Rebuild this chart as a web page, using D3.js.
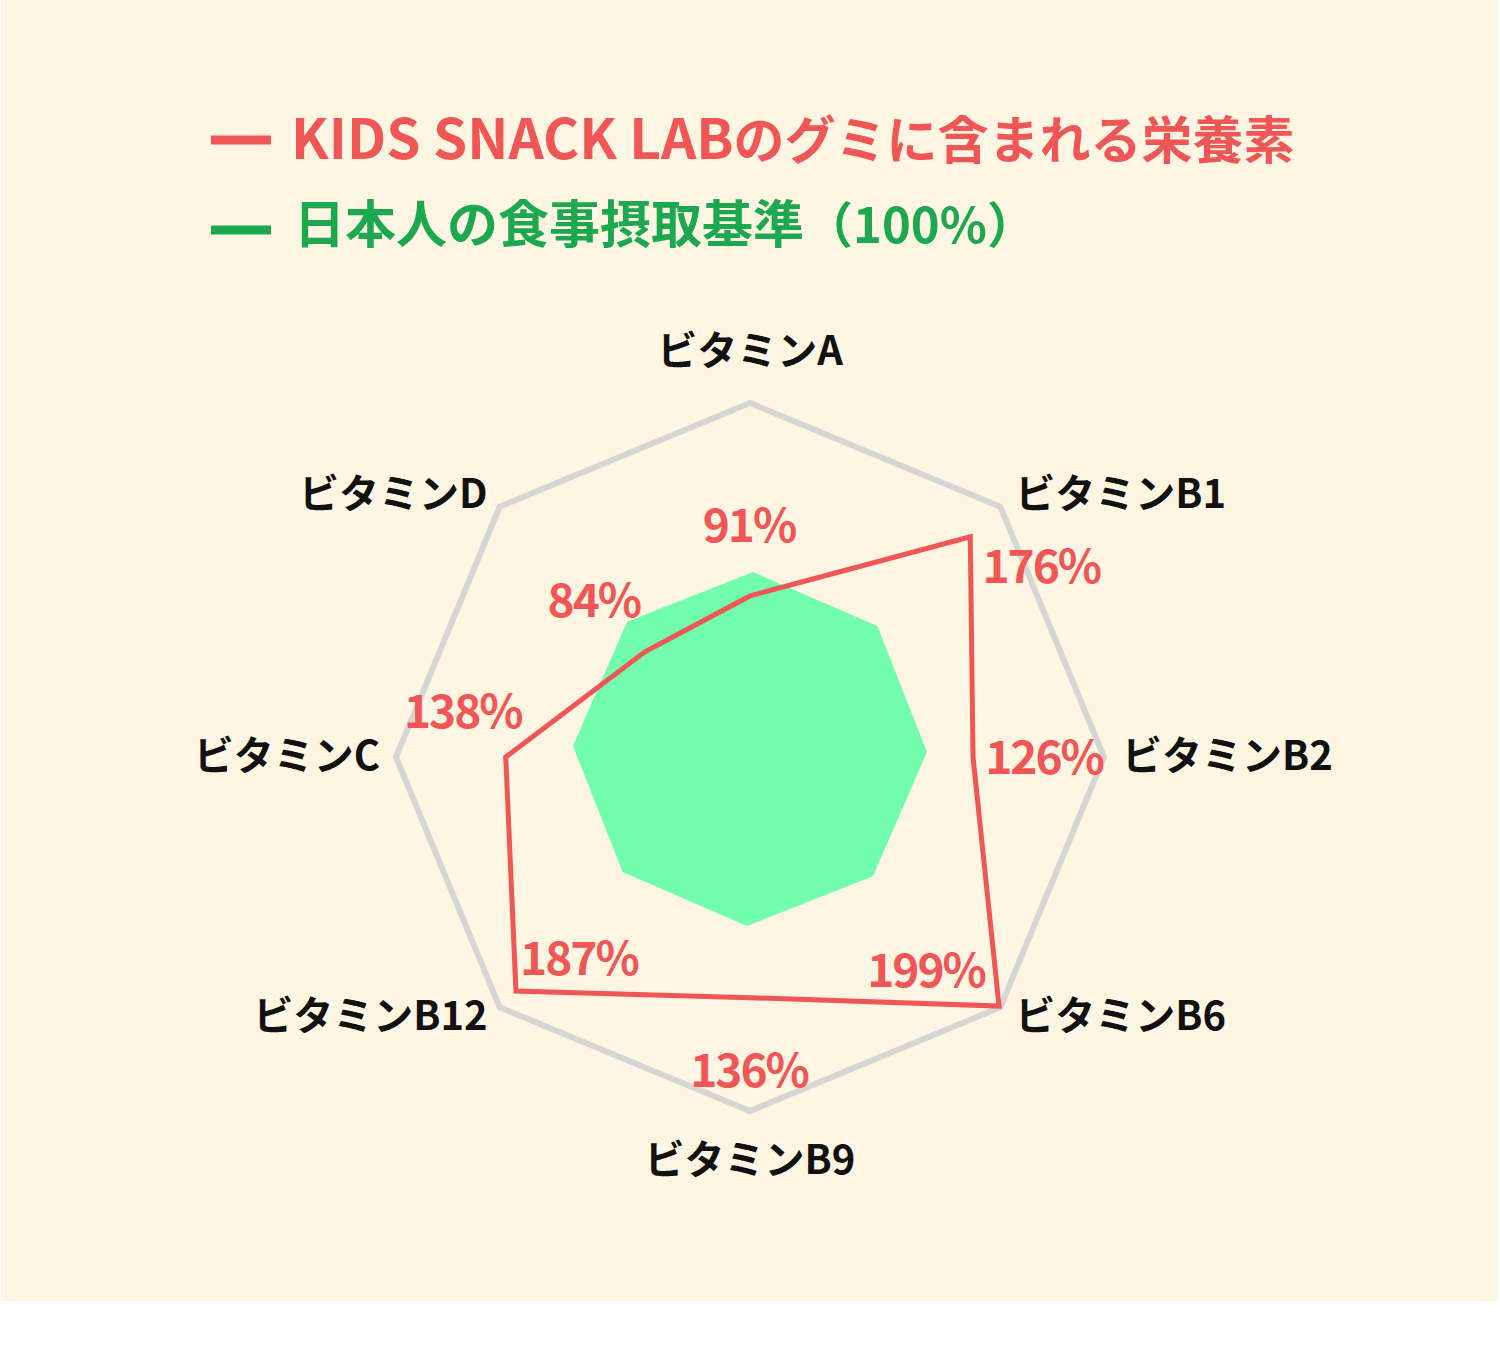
<!DOCTYPE html>
<html>
<head>
<meta charset="utf-8">
<script src="https://cdn.jsdelivr.net/npm/d3@7"></script>
<style>
body { margin: 0; background: #fff; }
svg text { font-family: "Noto Sans CJK JP", "Noto Sans", sans-serif; font-weight: 700; }
</style>
</head>
<body>
<div id="chart"></div>
<script>
// Data
const axes = ["ビタミンA", "ビタミンB1", "ビタミンB2", "ビタミンB6", "ビタミンB9", "ビタミンB12", "ビタミンC", "ビタミンD"];
const snackValues = [91, 176, 126, 199, 136, 187, 138, 84];
const standardValues = [100, 100, 100, 100, 100, 100, 100, 100];
const maxValue = 200;
const legendLabels = [
    ["KIDS SNACK LAB", "のグミに含まれる栄養素"],
    ["日本人の食事摂取基準", "（100%）"]
];

// Layout: label nudges (hand placed in the original)
const axisLabelOffsets = [
    { dx: 0, dy: -38, anchor: "middle" },
    { dx: 15, dy: 1, anchor: "start" },
    { dx: 18, dy: 13, anchor: "start" },
    { dx: 15, dy: 23, anchor: "start" },
    { dx: 0, dy: 63, anchor: "middle" },
    { dx: -12, dy: 23, anchor: "end" },
    { dx: -16, dy: 13, anchor: "end" },
    { dx: -12, dy: 1, anchor: "end" }
];
const valueLabelOffsets = [
    [-1, -54], [71, 46], [71, 17], [-73, -19],
    [-1, 89], [63, -16], [-43, -29], [-51, -35]
];

const width = 1500;
const height = 1367;
const cx = 750;
const cy = 757;

const colors = {
    bg: "#fef6e2",
    red: "#f05656",
    green: "#1ba84f",
    fill: "#72fdae",
    grid: "#d6d6d6"
};

const svg = d3.select("#chart")
    .append("svg")
    .attr("width", width)
    .attr("height", height);

svg.append("rect")
    .attr("x", 1)
    .attr("y", 0)
    .attr("width", width - 3)
    .attr("height", 1301)
    .attr("fill", colors.bg);

// Scales
const r = d3.scaleLinear().domain([0, maxValue]).range([0, 354]);
const angle = d3.scaleLinear().domain([0, axes.length]).range([0, 2 * Math.PI]);

const radial = d3.lineRadial()
    .angle((d, i) => angle(i))
    .radius(d => r(d))
    .curve(d3.curveLinearClosed);

function point(i, v) {
    const a = angle(i);
    return [cx + Math.sin(a) * r(v), cy - Math.cos(a) * r(v)];
}

// Outer frame (200%)
svg.append("path")
    .attr("transform", `translate(${cx},${cy})`)
    .attr("d", radial(axes.map(() => maxValue)))
    .attr("fill", "none")
    .attr("stroke", colors.grid)
    .attr("stroke-width", 6)
    .attr("stroke-linejoin", "miter");

// Standard (100%)
svg.append("path")
    .attr("transform", `translate(${cx},${cy - 8}) rotate(1)`)
    .attr("d", radial(standardValues))
    .attr("fill", colors.fill);

// Snack values
svg.append("path")
    .attr("transform", `translate(${cx},${cy})`)
    .attr("d", radial(snackValues))
    .attr("fill", "none")
    .attr("stroke", colors.red)
    .attr("stroke-width", 5)
    .attr("stroke-linejoin", "miter");

// Axis labels
svg.selectAll(".axis-label")
    .data(axes)
    .join("text")
    .attr("class", "axis-label")
    .attr("x", (d, i) => point(i, maxValue)[0] + axisLabelOffsets[i].dx)
    .attr("y", (d, i) => point(i, maxValue)[1] + axisLabelOffsets[i].dy)
    .attr("text-anchor", (d, i) => axisLabelOffsets[i].anchor)
    .attr("font-size", 40)
    .attr("fill", "#111")
    .text(d => d);

// Value labels
svg.selectAll(".value-label")
    .data(snackValues)
    .join("text")
    .attr("class", "value-label")
    .attr("x", (d, i) => point(i, d)[0] + valueLabelOffsets[i][0])
    .attr("y", (d, i) => point(i, d)[1] + valueLabelOffsets[i][1])
    .attr("text-anchor", "middle")
    .attr("font-size", 46)
    .attr("letter-spacing", -2)
    .attr("fill", colors.red)
    .text(d => d + "%");

// Legend
const legend = [
    { parts: legendLabels[0], color: colors.red, y: 140, sizes: [55, 51], base: 159, x: 291 },
    { parts: legendLabels[1], color: colors.green, y: 230, sizes: [51, 49], base: 243, x: 294 }
];

const legendItems = svg.selectAll(".legend")
    .data(legend)
    .join("g")
    .attr("class", "legend");

legendItems.append("line")
    .attr("x1", 211)
    .attr("x2", 271)
    .attr("y1", d => d.y)
    .attr("y2", d => d.y)
    .attr("stroke", d => d.color)
    .attr("stroke-width", 9);

const legendText = legendItems.append("text")
    .attr("x", d => d.x)
    .attr("y", d => d.base)
    .attr("fill", d => d.color);

legendText.selectAll("tspan")
    .data(d => d.parts.map((p, i) => ({ text: p, size: d.sizes[i] })))
    .join("tspan")
    .attr("font-size", d => d.size)
    .text(d => d.text);
</script>
</body>
</html>
